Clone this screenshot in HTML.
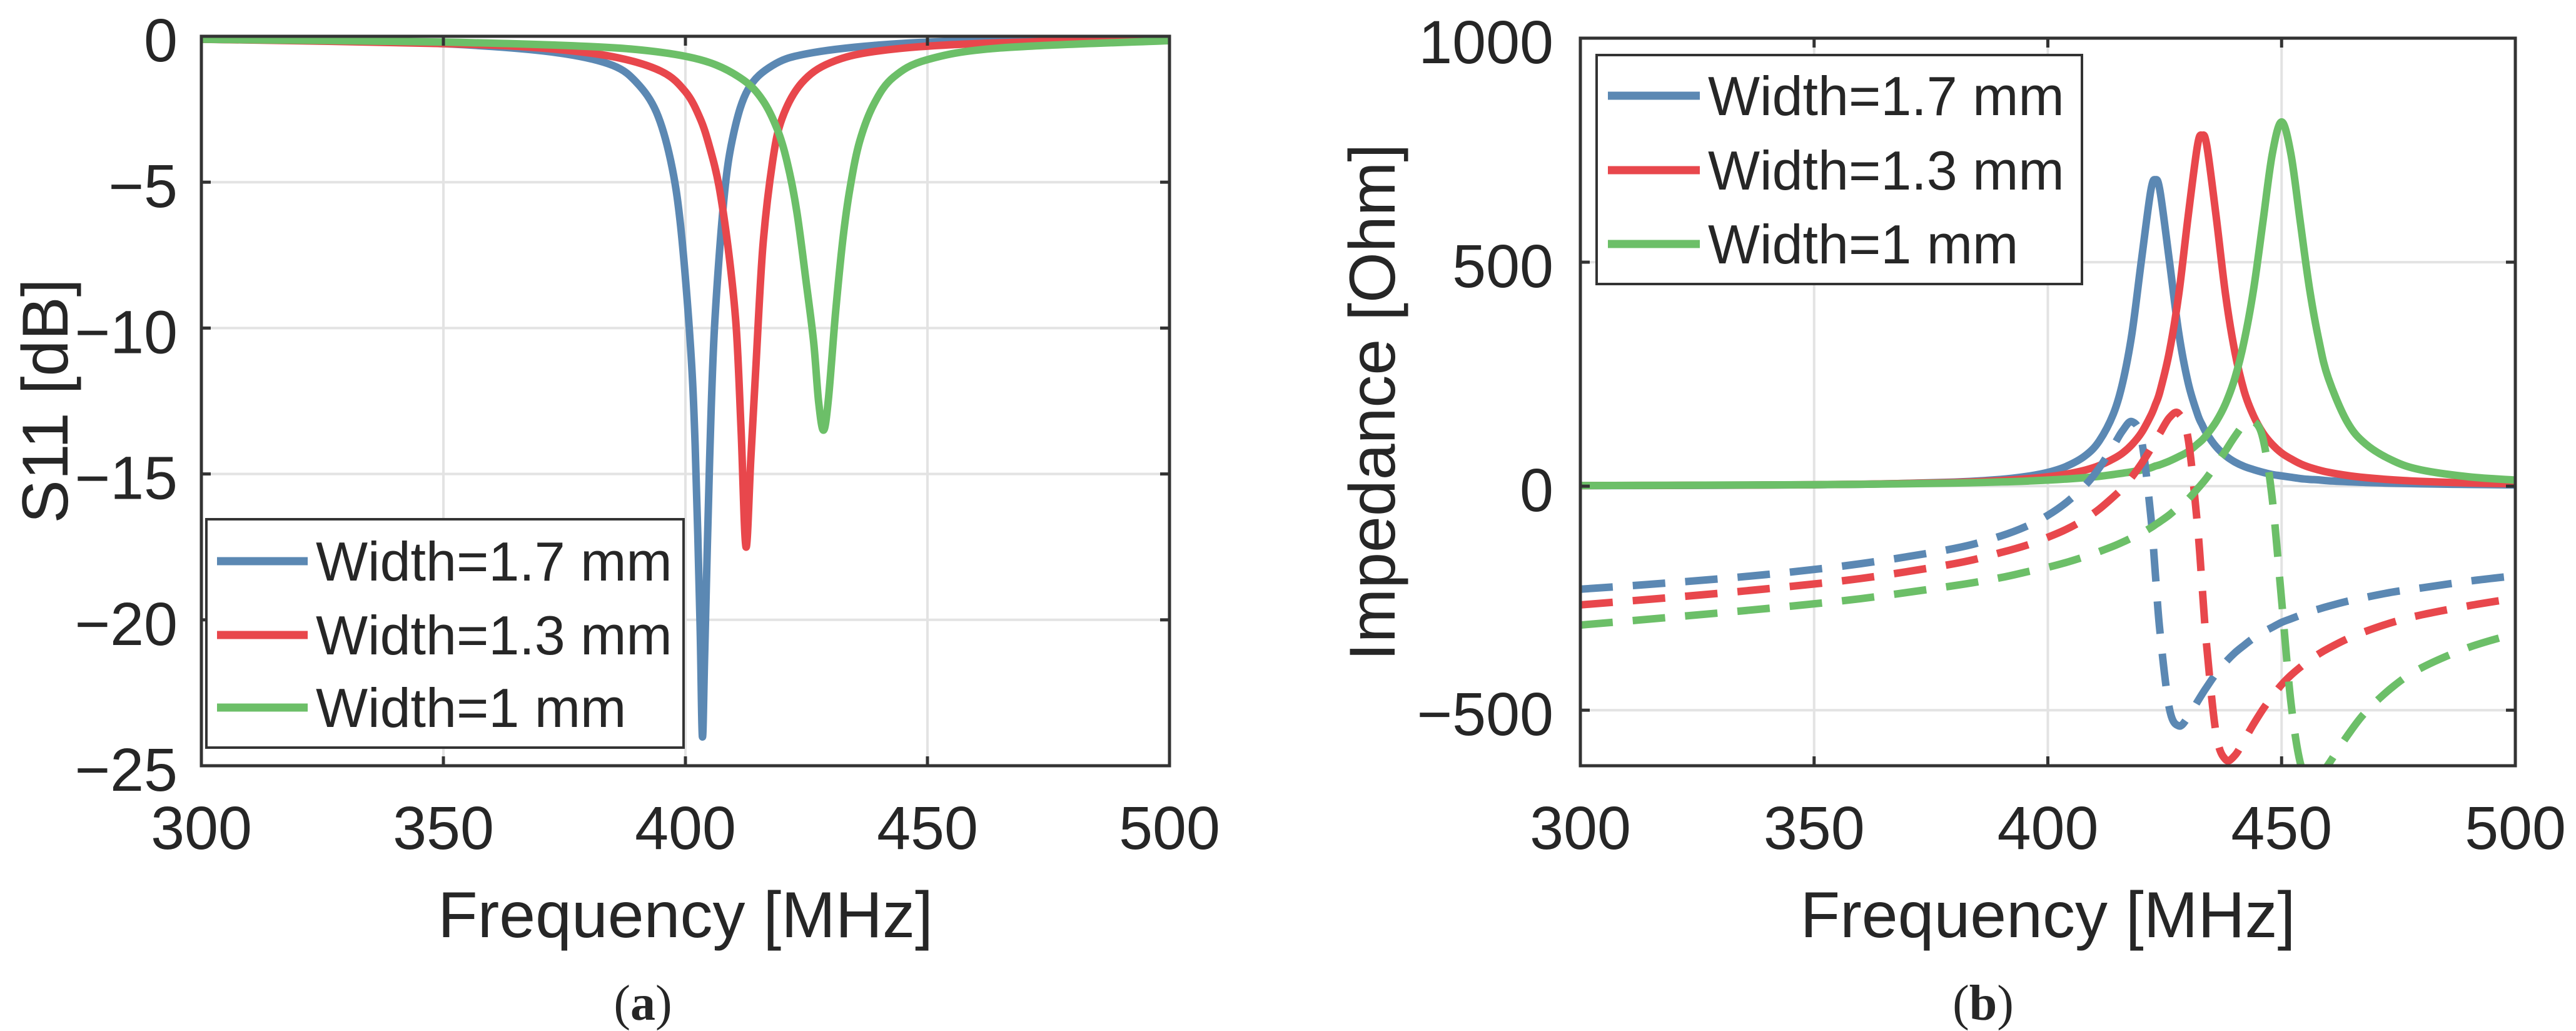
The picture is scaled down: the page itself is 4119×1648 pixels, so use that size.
<!DOCTYPE html>
<html><head><meta charset="utf-8"><style>
html,body{margin:0;padding:0;background:#fff}
svg{display:block}
text{font-family:"Liberation Sans",Arial,sans-serif;fill:#262626}
</style></head><body>
<svg id="fig" width="4119" height="1648" viewBox="0 0 4119 1648" xmlns="http://www.w3.org/2000/svg">
<defs>
<clipPath id="clipA"><rect x="322" y="58" width="1548" height="1166"/></clipPath>
<clipPath id="clipB"><rect x="2527" y="61" width="1495" height="1163"/></clipPath>
</defs>
<g id="panelA"></g>
<g id="panelB"></g>
<text x="1028" y="1630" text-anchor="middle" style="font-family:'Liberation Serif',serif;font-size:80px">(<tspan font-weight="bold">a</tspan>)</text>
<text x="3171" y="1630" text-anchor="middle" style="font-family:'Liberation Serif',serif;font-size:80px">(<tspan font-weight="bold">b</tspan>)</text>
</svg>
<script>
// ---- Panel A data (S11) ----
const xTicks = [300, 350, 400, 450, 500];
const s11Ticks = [0, -5, -10, -15, -20, -25];
const impTicks = [1000, 500, 0, -500];
const seriesNames = ["Width=1.7 mm", "Width=1.3 mm", "Width=1 mm"];
const fBlueS11 = [300,340,360,375,385,390,394,397,399,401,402,403,403.5,404,405,406,408,410,413,418,425,440,460,500];
const s11Blue = [-0.1,-0.2,-0.35,-0.6,-1.0,-1.6,-2.6,-4.3,-6.5,-10.5,-14,-20,-24,-21,-14.5,-10,-5.5,-3.3,-1.8,-1.0,-0.6,-0.3,-0.15,-0.05];
const fRedS11 = [300,350,370,385,395,400,403,405,407,409,410.5,411.5,412.5,413.5,414.5,416,418,420,424,430,440,460,500];
const s11Red = [-0.1,-0.25,-0.4,-0.7,-1.2,-1.9,-2.8,-3.8,-5.2,-7.5,-10,-13.5,-17.5,-14.5,-11.5,-7.2,-4.3,-2.8,-1.6,-0.9,-0.5,-0.25,-0.08];
const fGreenS11 = [300,350,380,395,405,412,416,419,421,423,425,426.5,427.5,428.5,429.5,431,432.5,434,436,439,443,450,465,500];
const s11Green = [-0.1,-0.2,-0.35,-0.55,-0.9,-1.5,-2.2,-3.2,-4.3,-6,-8.5,-10.5,-12.5,-13.5,-12.5,-9.5,-7,-5.2,-3.6,-2.3,-1.4,-0.8,-0.4,-0.15];
// ---- Panel B data (Impedance) ----
const fImp = [300,320,340,360,380,390,396,400,404,408,411,414,416,418,420,422,423,424,426,428,430,432,433,434,436,438,440,442,444,446,448,450,452,454,456,458,460,464,468,474,480,490,500];
const reBlue = [1.1,1.6,2.5,4.3,9.1,15.3,22.7,30.8,44.4,68,101,161,231,342,503,658,684,658,503,342,231,161,137,117,88,68,54,44,37,31,26,23,20,17,15,14,12,10,8.3,6.5,5.2,3.8,2.9];
const reRed = [1.3,1.9,2.7,4.4,8.3,12.6,16.9,21,27,36,46,61,74,93,119,157,182,212,300,428,602,760,783,760,602,428,300,212,157,119,93,74,61,50,42,36,31,24,19,14,10.6,7.2,5.2];
const reGreen = [1.5,2,2.8,4.2,7,9.5,11.6,13.6,16,19,22,26,29,32,36,41,45,48,56,66,77,94,103,115,144,184,241,324,439,589,741,813,741,589,439,324,241,144,94,56,36,21,13.6];
const imBlue = [-230,-215,-197,-173,-139,-111,-87,-65,-36,2,41,90,124,144,105,-64,-196,-327,-496,-535,-515,-481,-464,-448,-418,-393,-372,-355,-339,-326,-315,-304,-296,-288,-280,-274,-268,-257,-248,-236,-227,-212,-200];
const imRed = [-265,-248,-229,-206,-173,-148,-130,-114,-96,-73,-51,-24,-4,21,50,83,102,119,153,162,106,-87,-224,-360,-553,-610,-601,-567,-531,-498,-469,-443,-422,-404,-388,-374,-362,-341,-324,-303,-287,-267,-250];
const imGreen = [-310,-292,-273,-251,-222,-204,-190,-181,-170,-157,-146,-134,-125,-115,-105,-93,-86,-79,-64,-46,-29,-6,6,19,48,79,111,138,145,107,-28,-255,-483,-618,-656,-649,-621,-558,-504,-446,-405,-360,-329];

const COLORS = ["#5b88b3","#e8474c","#6cbf68"];
const NS = "http://www.w3.org/2000/svg";
function mk(tag, attrs, parent){
  const e = document.createElementNS(NS, tag);
  for (const k in attrs) e.setAttribute(k, attrs[k]);
  if (parent) parent.appendChild(e);
  return e;
}
function smoothPath(pts){
  let d = "M" + pts[0][0].toFixed(1) + "," + pts[0][1].toFixed(1);
  for (let i = 0; i < pts.length - 1; i++){
    const p0 = pts[Math.max(0,i-1)], p1 = pts[i], p2 = pts[i+1], p3 = pts[Math.min(pts.length-1,i+2)];
    const c1x = p1[0] + (p2[0]-p0[0])/6, c1y = p1[1] + (p2[1]-p0[1])/6;
    const c2x = p2[0] - (p3[0]-p1[0])/6, c2y = p2[1] - (p3[1]-p1[1])/6;
    d += " C" + c1x.toFixed(1)+","+c1y.toFixed(1)+" "+c2x.toFixed(1)+","+c2y.toFixed(1)+" "+p2[0].toFixed(1)+","+p2[1].toFixed(1);
  }
  return d;
}

function buildPanel(g, cfg){
  const X = v => cfg.x0 + (v - cfg.xmin) / (cfg.xmax - cfg.xmin) * (cfg.x1 - cfg.x0);
  const Y = v => cfg.y0 + (cfg.ymax - v) / (cfg.ymax - cfg.ymin) * (cfg.y1 - cfg.y0);
  mk("rect", {x:cfg.x0, y:cfg.y0, width:cfg.x1-cfg.x0, height:cfg.y1-cfg.y0, fill:"#fff"}, g);
  xTicks.forEach(t => {
    const l = mk("line", {x1:X(t), x2:X(t), y1:cfg.y0, y2:cfg.y1, stroke:"#e3e3e3", "stroke-width":4}, g);
    
    
  });
  cfg.yTicks.forEach(t => {
    const l = mk("line", {x1:cfg.x0, x2:cfg.x1, y1:Y(t), y2:Y(t), stroke:"#e3e3e3", "stroke-width":4}, g);
    
    
  });
  const lines = mk("g", {"clip-path":"url(#"+cfg.clip+")"}, g);
  cfg.series.forEach(s => {
    const pts = s.f.map((f,i) => [X(f), Y(s.v[i])]);
    const p = mk("path", {d:smoothPath(pts), fill:"none", stroke:s.color, "stroke-width":12, "stroke-linejoin":"round", "stroke-linecap": s.dash ? "butt" : "round"}, lines);
    if (s.dash) p.setAttribute("stroke-dasharray", "52 32");
    
    
  });
  const box = mk("rect", {x:cfg.x0, y:cfg.y0, width:cfg.x1-cfg.x0, height:cfg.y1-cfg.y0, fill:"none", stroke:"#333", "stroke-width":5}, g);
  
  
  xTicks.forEach(t => {
    mk("line", {x1:X(t), x2:X(t), y1:cfg.y1, y2:cfg.y1-15, stroke:"#333", "stroke-width":5}, g);
    mk("line", {x1:X(t), x2:X(t), y1:cfg.y0, y2:cfg.y0+15, stroke:"#333", "stroke-width":5}, g);
    const tx = mk("text", {x:X(t), y:1357, "text-anchor":"middle", "font-size":97}, g);
    tx.textContent = String(t);
    
    
  });
  cfg.yTicks.forEach(t => {
    mk("line", {x1:cfg.x0, x2:cfg.x0+15, y1:Y(t), y2:Y(t), stroke:"#333", "stroke-width":5}, g);
    mk("line", {x1:cfg.x1, x2:cfg.x1-15, y1:Y(t), y2:Y(t), stroke:"#333", "stroke-width":5}, g);
    const tx = mk("text", {x:cfg.ylabX, y:Y(t)+40, "text-anchor":"end", "font-size":97}, g);
    tx.textContent = (t < 0 ? "\u2212" + (-t) : String(t));
    
    
  });
  const xt = mk("text", {x:(cfg.x0+cfg.x1)/2, y:1498, "text-anchor":"middle", "font-size":104}, g);
  xt.textContent = "Frequency [MHz]";
  
  
  const yt = mk("text", {x:0, y:0, "text-anchor":"middle", "font-size":104, transform:"translate("+cfg.ytitleX+","+cfg.ytitleY+") rotate(-90)"}, g);
  yt.textContent = cfg.ytitle;
  
  
  const L = cfg.legend;
  const lg = mk("g", {}, g);
  
  
  mk("rect", {x:L.x, y:L.y, width:L.w, height:L.h, fill:"#fff", stroke:"#333", "stroke-width":4}, lg);
  seriesNames.forEach((nm, i) => {
    const ry = L.rows[i];
    mk("line", {x1:L.lx0, x2:L.lx1, y1:ry, y2:ry, stroke:COLORS[i], "stroke-width":13}, lg);
    const tx = mk("text", {x:L.tx, y:ry+31, "font-size":88, fill:"#000"}, lg);
    tx.textContent = nm;
    
    
  });
}

buildPanel(document.getElementById("panelA"), {
  x0:322, x1:1870, y0:58, y1:1224, xmin:300, xmax:500, ymin:-25, ymax:0,
  yTicks:s11Ticks, ylabX:284, clip:"clipA",
  ytitle:"S11 [dB]", ytitleX:108, ytitleY:641,
  series:[
    {f:fBlueS11, v:s11Blue, color:COLORS[0], name:"s11-width-1.7"},
    {f:fRedS11, v:s11Red, color:COLORS[1], name:"s11-width-1.3"},
    {f:fGreenS11, v:s11Green, color:COLORS[2], name:"s11-width-1"}
  ],
  legend:{x:330, y:830, w:763, h:365, rows:[897,1015,1131], lx0:347, lx1:492, tx:505}
});
buildPanel(document.getElementById("panelB"), {
  x0:2527, x1:4022, y0:61, y1:1224, xmin:300, xmax:500, ymin:-624, ymax:1000,
  yTicks:impTicks, ylabX:2484, clip:"clipB",
  ytitle:"Impedance [Ohm]", ytitleX:2230, ytitleY:643,
  series:[
    {f:fImp, v:reBlue, color:COLORS[0], name:"real-width-1.7"},
    {f:fImp, v:reRed, color:COLORS[1], name:"real-width-1.3"},
    {f:fImp, v:reGreen, color:COLORS[2], name:"real-width-1"},
    {f:fImp, v:imBlue, color:COLORS[0], dash:true, name:"imag-width-1.7"},
    {f:fImp, v:imRed, color:COLORS[1], dash:true, name:"imag-width-1.3"},
    {f:fImp, v:imGreen, color:COLORS[2], dash:true, name:"imag-width-1"}
  ],
  legend:{x:2553, y:88, w:776, h:366, rows:[153,272,390], lx0:2571, lx1:2718, tx:2731}
});
</script>
</body></html>
